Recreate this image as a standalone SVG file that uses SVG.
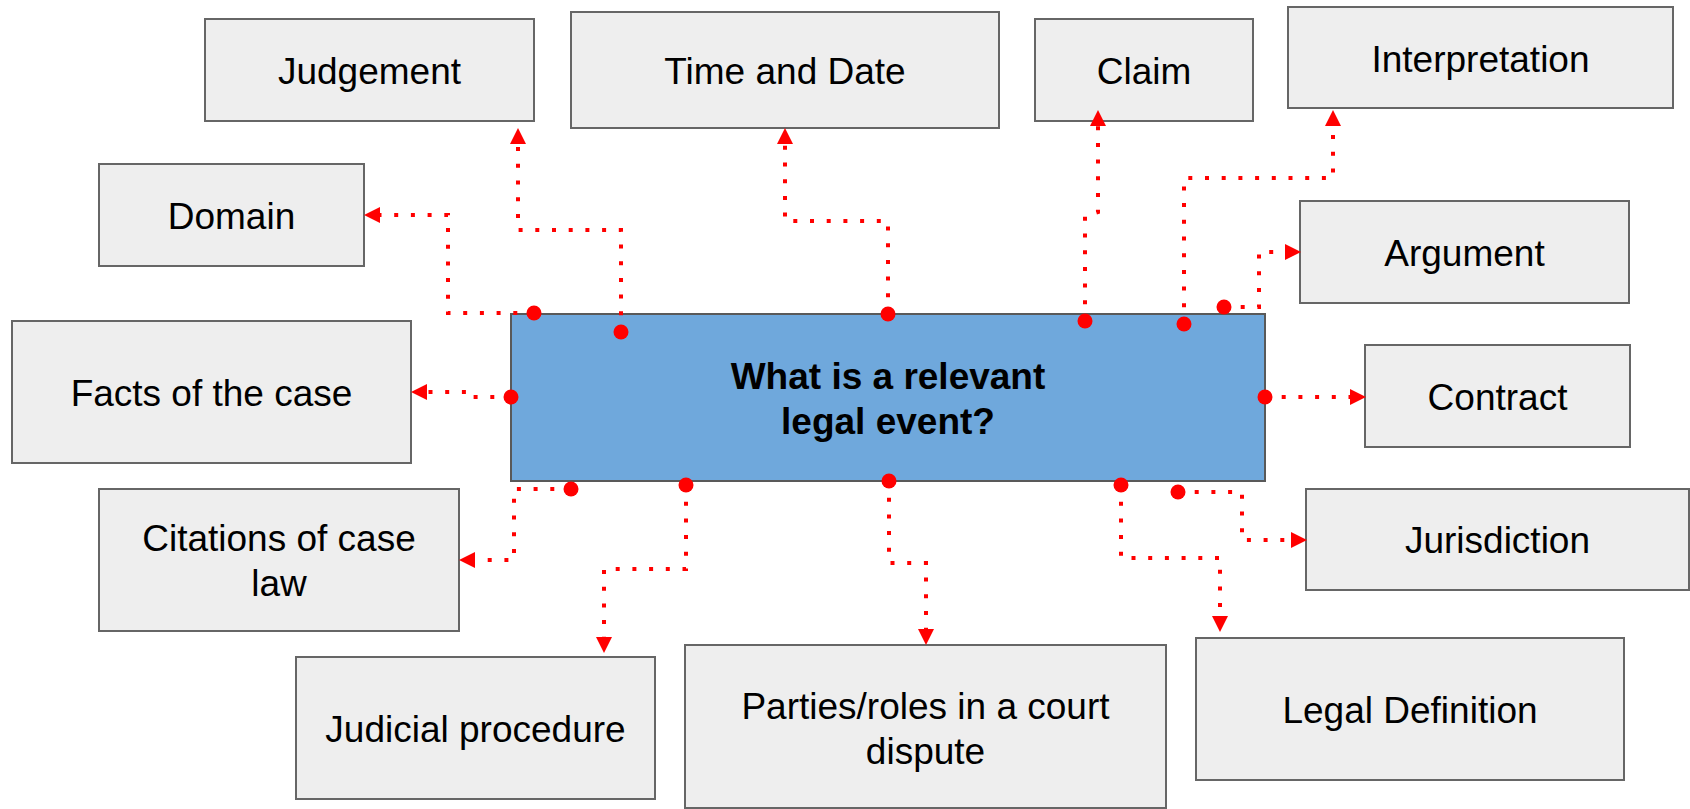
<svg xmlns="http://www.w3.org/2000/svg" width="1690" height="809" viewBox="0 0 1690 809">
<style>
.box{fill:#eeeeee;stroke:#666666;stroke-width:2}
.main{fill:#6fa8dc;stroke:#595959;stroke-width:2}
.t{font-family:"Liberation Sans",Arial,sans-serif;font-size:37px;fill:#000000;text-anchor:middle}
.b{font-weight:bold}
.c{fill:none;stroke:#ff0000;stroke-width:4;stroke-dasharray:4 12.7;marker-start:url(#dot);marker-end:url(#arr)}
</style>
<defs>
<marker id="arr" markerUnits="userSpaceOnUse" markerWidth="16" markerHeight="16" viewBox="0 0 15 15" refX="0" refY="7.5" orient="auto">
<path d="M0,0 L15,7.5 L0,15 Z" fill="#ff0000"/>
</marker>
<marker id="dot" markerUnits="userSpaceOnUse" markerWidth="16" markerHeight="16" viewBox="0 0 16 16" refX="8" refY="8" orient="0">
<circle cx="8" cy="8" r="7.5" fill="#ff0000"/>
</marker>
</defs>
<rect width="1690" height="809" fill="#ffffff"/>
<g id="node-judgement"><rect class="box" x="205" y="19" width="329" height="102"/><text class="t" x="369.5" y="84">Judgement</text></g>
<g id="node-time"><rect class="box" x="571" y="12" width="428" height="116"/><text class="t" x="785" y="84">Time and Date</text></g>
<g id="node-claim"><rect class="box" x="1035" y="19" width="218" height="102"/><text class="t" x="1144" y="84">Claim</text></g>
<g id="node-interpretation"><rect class="box" x="1288" y="7" width="385" height="101"/><text class="t" x="1480.5" y="72">Interpretation</text></g>
<g id="node-domain"><rect class="box" x="99" y="164" width="265" height="102"/><text class="t" x="231.5" y="229">Domain</text></g>
<g id="node-argument"><rect class="box" x="1300" y="201" width="329" height="102"/><text class="t" x="1464.5" y="266">Argument</text></g>
<g id="node-facts"><rect class="box" x="12" y="321" width="399" height="142"/><text class="t" x="211.5" y="406">Facts of the case</text></g>
<g id="node-contract"><rect class="box" x="1365" y="345" width="265" height="102"/><text class="t" x="1497.5" y="410">Contract</text></g>
<g id="node-center"><rect class="main" x="511" y="314" width="754" height="167"/><text class="t b" x="888" y="389">What is a relevant</text><text class="t b" x="888" y="434">legal event?</text></g>
<g id="node-citations"><rect class="box" x="99" y="489" width="360" height="142"/><text class="t" x="279" y="551">Citations of case</text><text class="t" x="279" y="596">law</text></g>
<g id="node-jurisdiction"><rect class="box" x="1306" y="489" width="383" height="101"/><text class="t" x="1497.5" y="553">Jurisdiction</text></g>
<g id="node-judicial"><rect class="box" x="296" y="657" width="359" height="142"/><text class="t" x="475.5" y="742">Judicial procedure</text></g>
<g id="node-parties"><rect class="box" x="685" y="645" width="481" height="163"/><text class="t" x="925.5" y="719">Parties/roles in a court</text><text class="t" x="925.5" y="764">dispute</text></g>
<g id="node-legaldef"><rect class="box" x="1196" y="638" width="428" height="142"/><text class="t" x="1410" y="723">Legal Definition</text></g>
<g id="connectors">
<path class="c" d="M534,313 H448 V215 H380"/>
<path class="c" d="M621,332 V230 H518 V144"/>
<path class="c" d="M888,314 V221 H785 V144"/>
<path class="c" d="M1085,321 V216 L1098,212 V126"/>
<path class="c" d="M1184,324 V178 H1333 V126"/>
<path class="c" d="M1224,307 H1259 V252 H1285"/>
<path class="c" d="M1265,397 H1350"/>
<path class="c" d="M511,397 H470 V392 H427"/>
<path class="c" d="M571,489 H514 V560 H475"/>
<path class="c" d="M686,485 V569 H604 V637"/>
<path class="c" d="M889,481 V563 H926 V629"/>
<path class="c" d="M1121,485 V558 H1220 V616"/>
<path class="c" d="M1178,492 H1242 V540 H1291"/>
</g>
</svg>
